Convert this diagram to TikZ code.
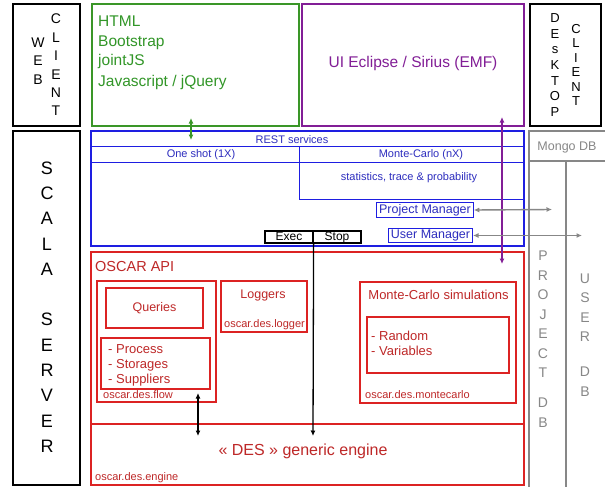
\documentclass[tikz,border=0pt]{standalone}
\usepackage{fontspec}
\setmainfont{Liberation Sans}
\usetikzlibrary{arrows.meta,fit}

\newcommand\fs[2]{\fontsize{#1}{#2}\selectfont}

\definecolor{wgreen}{RGB}{58,150,40}
\definecolor{wgtext}{RGB}{50,150,40}
\definecolor{dpurple}{RGB}{130,30,150}
\definecolor{rblue}{RGB}{30,30,225}
\definecolor{rbtext}{RGB}{45,45,190}
\definecolor{ored}{RGB}{220,35,35}
\definecolor{ortext}{RGB}{190,40,40}
\definecolor{dbgray}{RGB}{135,135,135}

\tikzset{
  frame/.style={draw, inner sep=0pt, line width=1.5pt},
  blk/.style={frame, draw=black},
  grn/.style={frame, draw=wgreen},
  pur/.style={frame, draw=dpurple},
  bluebox/.style={frame, draw=rblue},
  blueline/.style={draw=rblue, line width=0.8pt},
  redbox/.style={draw=ored, inner sep=0pt, line width=1.2pt},
  graybox/.style={draw=dbgray, inner sep=0pt, line width=1.2pt},
  lbl/.style={inner sep=0pt, anchor=base west},
  clbl/.style={inner sep=0pt, anchor=base},
  vword/.style={inner sep=0pt, align=center},
  mgr/.style={draw=rblue, line width=0.8pt, text=rbtext, font=\fs{12.5}{14},
    inner xsep=2.5pt, inner ysep=1.5pt, text height=9pt, text depth=2.5pt},
  cmd/.style={draw=black, line width=1.2pt, font=\fs{12}{14},
    inner xsep=0pt, inner ysep=0.5pt, minimum width=48pt,
    text height=8.5pt, text depth=2.5pt},
  tipone/.style={-{Latex[length=5.5pt,width=5pt]}},
  tiptwo/.style={{Latex[length=5.5pt,width=5pt]}-{Latex[length=5.5pt,width=5pt]}},
}

\begin{document}
\begin{tikzpicture}[x=1pt,y=-1pt]
\useasboundingbox (0,0) rectangle (605,487);
\fill[white] (0,0) rectangle (605,487);

% ---------- clients ----------
\node[blk, fit={(13,4)(80,126)}] (web) {};
\node[vword, font=\fs{14}{18.4}] (webW) at (38,61) {W\\E\\B};
\node[vword, font=\fs{14}{18.4}] (webC) at (56,65) {C\\L\\I\\E\\N\\T};

\node[grn, fit={(92,4)(299,126)}] (webui) {};
\begin{scope}[every node/.style={lbl, text=wgtext, font=\fs{15.5}{18}}]
  \node (t1) at (98,27) {HTML};
  \node (t2) at (98,47) {Bootstrap};
  \node (t3) at (98,66) {jointJS};
  \node (t4) at (98,86) {Javascript / jQuery};
\end{scope}

\node[pur, fit={(302,4)(524,126)}] (deskui) {};
\node[clbl, text=dpurple, font=\fs{15.5}{18}] (emf) at (413,67) {UI Eclipse / Sirius (EMF)};

\node[blk, fit={(530,4)(601,126)}] (desk) {};
\node[vword, font=\fs{13}{15.7}] (deskD) at (555,65) {D\\E\\s\\K\\T\\O\\P};
\node[vword, font=\fs{13}{14.4}] (deskC) at (576,65) {C\\L\\I\\E\\N\\T};

% ---------- server ----------
\node[blk, fit={(13,131)(80,485)}] (scala) {};
\node[vword, font=\fs{18}{25.3}] (scalaT) at (47,307)
  {S\\C\\A\\L\\A\\\mbox{}\\S\\E\\R\\V\\E\\R};

% REST layer
\node[bluebox, fit={(91,131)(524,246)}] (rest) {};
\draw[blueline] (rest.west |- 0,146) -- (rest.east |- 0,146);
\draw[blueline] (rest.west |- 0,162) -- (rest.east |- 0,162);
\draw[blueline] (299,146) -- (299,199) -- (rest.east |- 0,199);
\begin{scope}[every node/.style={clbl, text=rbtext, font=\fs{11}{13}}]
  \node (restT) at (292,143) {REST services};
  \node (oneshot) at (201,157.5) {One shot (1X)};
  \node (mc) at (421,157.5) {Monte-Carlo (nX)};
  \node (stats) at (409,180) {statistics, trace \& probability};
\end{scope}
\node[mgr] (pm) at (425,210) {Project Manager};
\node[mgr] (um) at (430.5,235.5) {User Manager};
\node[cmd] (exec) at (289,237) {Exec};
\node[cmd] (stop) at (337,237) {Stop};

% OSCAR API
\node[redbox, fit={(91,252)(524,485)}] (oscar) {};
\draw[redbox] (oscar.west |- 0,424) -- (oscar.east |- 0,424);
\node[lbl, text=ortext, font=\fs{14.5}{17}] (oscarT) at (95,271) {OSCAR API};

\node[redbox, fit={(97,281)(216,402)}] (flow) {};
\node[redbox, fit={(106,288)(203,328)}] (queries) {};
\node[text=ortext, font=\fs{12.5}{15}, inner sep=0pt] (queriesT) at (queries.center) {Queries};
\node[redbox, fit={(101,338)(210,389)}] (entities) {};
\begin{scope}[every node/.style={lbl, text=ortext, font=\fs{13}{15}}]
  \node (e1) at (108,353) {- Process};
  \node (e2) at (108,368) {- Storages};
  \node (e3) at (108,383) {- Suppliers};
\end{scope}
\node[lbl, text=ortext, font=\fs{11}{13}] (flowT) at (103,398.5) {oscar.des.flow};

\node[redbox, fit={(221,281)(307,332)}] (loggers) {};
\node[clbl, text=ortext, font=\fs{12.5}{15}] (loggersT) at (263,298) {Loggers};
\node[clbl, text=ortext, font=\fs{11}{13}] (loggerPk) at (264.5,327) {oscar.des.logger};

\node[redbox, fit={(360,282)(516,403)}] (montecarlo) {};
\node[clbl, text=ortext, font=\fs{13}{15}] (mcT) at (438.5,299) {Monte-Carlo simulations};
\node[redbox, fit={(367,317)(509,373)}] (random) {};
\node[lbl, text=ortext, font=\fs{13}{15}] (r1) at (371,340) {- Random};
\node[lbl, text=ortext, font=\fs{13}{15}] (r2) at (371,355) {- Variables};
\node[lbl, text=ortext, font=\fs{11}{13}] (mcPk) at (365,398.5) {oscar.des.montecarlo};

\node[clbl, text=ortext, font=\fs{16}{18}] (des) at (303,455) {« DES » generic engine};
\node[lbl, text=ortext, font=\fs{11}{13}] (engPk) at (95,480) {oscar.des.engine};

% Mongo DB
\node[graybox, fit={(529,131)(612,492)}] (mongo) {};
\draw[graybox] (mongo.west |- 0,161) -- (mongo.east |- 0,161);
\draw[graybox] (566,161) -- (566,492);
\node[clbl, text=dbgray, font=\fs{12.5}{15}] (mongoT) at (567,150) {Mongo DB};
\node[vword, text=dbgray, font=\fs{14}{19.5}] (projdb) at (543,339)
  {P\\R\\O\\J\\E\\C\\T\\[10.5pt]D\\B};
\node[vword, text=dbgray, font=\fs{14}{19.6}] (userdb) at (585,335)
  {U\\S\\E\\R\\[15.4pt]D\\B};

% ---------- connectors ----------
\coordinate (gTop) at (191,118);
\coordinate (gBot) at (191,140);
\draw[tiptwo, wgreen, line width=1.3pt] (gTop) -- (gBot);

\coordinate (pTop) at (502,117);
\coordinate (pBot) at (502,264);
\draw[tiptwo, dpurple, line width=1.3pt] (pTop) -- (pBot);

\coordinate (pmDb) at (552,209.5);
\coordinate (umDb) at (582,235.5);
\draw[tiptwo, dbgray, line width=1.4pt] (pm.east) -- (pmDb);
\draw[tiptwo, dbgray, line width=1.4pt] (um.east) -- (umDb);

\coordinate (flowIn) at (198,393);
\coordinate (engA) at (198,436);
\coordinate (engB) at (313,436);
\draw[tiptwo, black, line width=1.3pt] (flowIn) -- (engA);
\draw[tipone, black, line width=1.3pt] (exec.south east) -- (engB);
\end{tikzpicture}
\end{document}
